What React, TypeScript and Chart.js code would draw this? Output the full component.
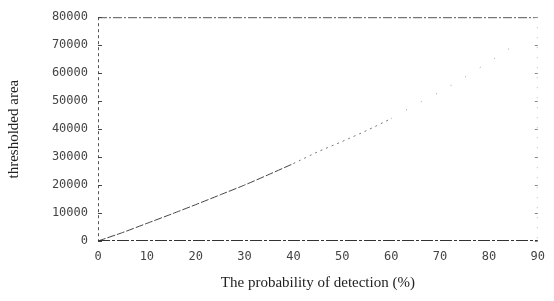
import React, { useEffect, useRef } from "react";
import { Chart, registerables } from "chart.js";

Chart.register(...registerables);

const detectionProbability = [0, 5, 10, 15, 20, 25, 30, 35, 40, 45, 50, 55, 60, 65, 70, 75, 80, 85];
const thresholdedArea = [0, 3000, 6300, 9600, 13000, 16500, 20000, 23800, 27700, 31900, 35600, 39500, 43800, 48800, 53300, 58500, 64000, 69700];
const xTicks = [0, 10, 20, 30, 40, 50, 60, 70, 80, 90];
const yTicks = [0, 10000, 20000, 30000, 40000, 50000, 60000, 70000, 80000];

const frame = {
  id: "frame",
  afterDatasetsDraw(chart: any) {
    const { ctx, chartArea: a, scales } = chart;
    ctx.save();
    ctx.lineWidth = 1;
    ctx.strokeStyle = "#555";
    ctx.setLineDash([9, 2, 2, 2]);
    ctx.beginPath();
    ctx.moveTo(a.left, a.top + 0.5);
    ctx.lineTo(a.right - 3, a.top + 0.5);
    ctx.stroke();
    ctx.strokeStyle = "#555";
    ctx.setLineDash([3, 3]);
    ctx.beginPath();
    ctx.moveTo(a.left + 0.5, a.top);
    ctx.lineTo(a.left + 0.5, a.bottom);
    ctx.stroke();
    ctx.strokeStyle = "#bbb";
    ctx.setLineDash([1, 9]);
    ctx.beginPath();
    ctx.moveTo(a.right - 0.5, a.top);
    ctx.lineTo(a.right - 0.5, a.bottom);
    ctx.stroke();
    ctx.strokeStyle = "#333";
    ctx.setLineDash([12, 2, 3, 2]);
    ctx.beginPath();
    ctx.moveTo(a.left, a.bottom - 0.5);
    ctx.lineTo(a.right, a.bottom - 0.5);
    ctx.stroke();
    ctx.setLineDash([]);
    for (const v of yTicks) {
      const y = Math.round(scales.y.getPixelForValue(v)) + 0.5;
      ctx.strokeStyle = "#444";
      ctx.beginPath();
      ctx.moveTo(a.left, y);
      ctx.lineTo(a.left + 4, y);
      ctx.stroke();
      ctx.strokeStyle = "#888";
      ctx.beginPath();
      ctx.moveTo(a.right - 3, y);
      ctx.lineTo(a.right, y);
      ctx.stroke();
    }
    ctx.restore();
  },
};

export default function App() {
  const ref = useRef<HTMLCanvasElement | null>(null);
  useEffect(() => {
    document.body.style.margin = "0";
    const chart = new Chart(ref.current as HTMLCanvasElement, {
      type: "line",
      data: {
        datasets: [
          {
            data: detectionProbability.map((x, i) => ({ x, y: thresholdedArea[i] })),
            borderColor: "#555",
            borderWidth: 1,
            borderDash: [6, 2],
            pointRadius: 0,
            tension: 0.2,
            segment: {
              borderColor: (c: any) => (c.p0.parsed.x >= 60 ? "#999" : c.p0.parsed.x >= 40 ? "#777" : "#444"),
              borderDash: (c: any) => (c.p0.parsed.x >= 60 ? [1, 16] : c.p0.parsed.x >= 40 ? [2, 4] : [8, 2]),
            },
          },
        ],
      },
      options: {
        animation: false,
        responsive: true,
        maintainAspectRatio: false,
        layout: { padding: { top: 13, right: 6, left: 0, bottom: 0 } },
        plugins: { legend: { display: false }, tooltip: { enabled: false } },
        scales: {
          x: {
            type: "linear",
            min: 0,
            max: 90,
            afterFit: (s: any) => {
              s.height = 60;
            },
            afterBuildTicks: (s: any) => {
              s.ticks = xTicks.map((v) => ({ value: v }));
            },
            grid: { display: false, drawTicks: false },
            border: { display: false },
            ticks: {
              padding: 9,
              color: "#444",
              font: { family: "DejaVu Sans Mono", size: 12 },
              maxRotation: 0,
            },
            title: {
              display: true,
              text: "The probability of detection (%)",
              color: "#222",
              font: { family: "Liberation Serif", size: 15 },
              padding: { top: 0, bottom: 9 },
            },
          },
          y: {
            type: "linear",
            min: 0,
            max: 80000,
            afterFit: (s: any) => {
              s.width = 98;
            },
            afterBuildTicks: (s: any) => {
              s.ticks = yTicks.map((v) => ({ value: v }));
            },
            grid: { display: false, drawTicks: false },
            border: { display: false },
            ticks: {
              padding: 10,
              color: "#444",
              font: { family: "DejaVu Sans Mono", size: 12 },
              callback: (v: any) => String(v),
            },
            title: {
              display: true,
              text: "thresholded area",
              color: "#222",
              font: { family: "Liberation Serif", size: 15 },
              padding: { top: 5, bottom: 0 },
            },
          },
        },
      },
      plugins: [frame],
    });
    return () => chart.destroy();
  }, []);
  return (
    <div style={{ width: 554, height: 301, position: "relative", background: "#fff" }}>
      <canvas ref={ref} />
    </div>
  );
}
